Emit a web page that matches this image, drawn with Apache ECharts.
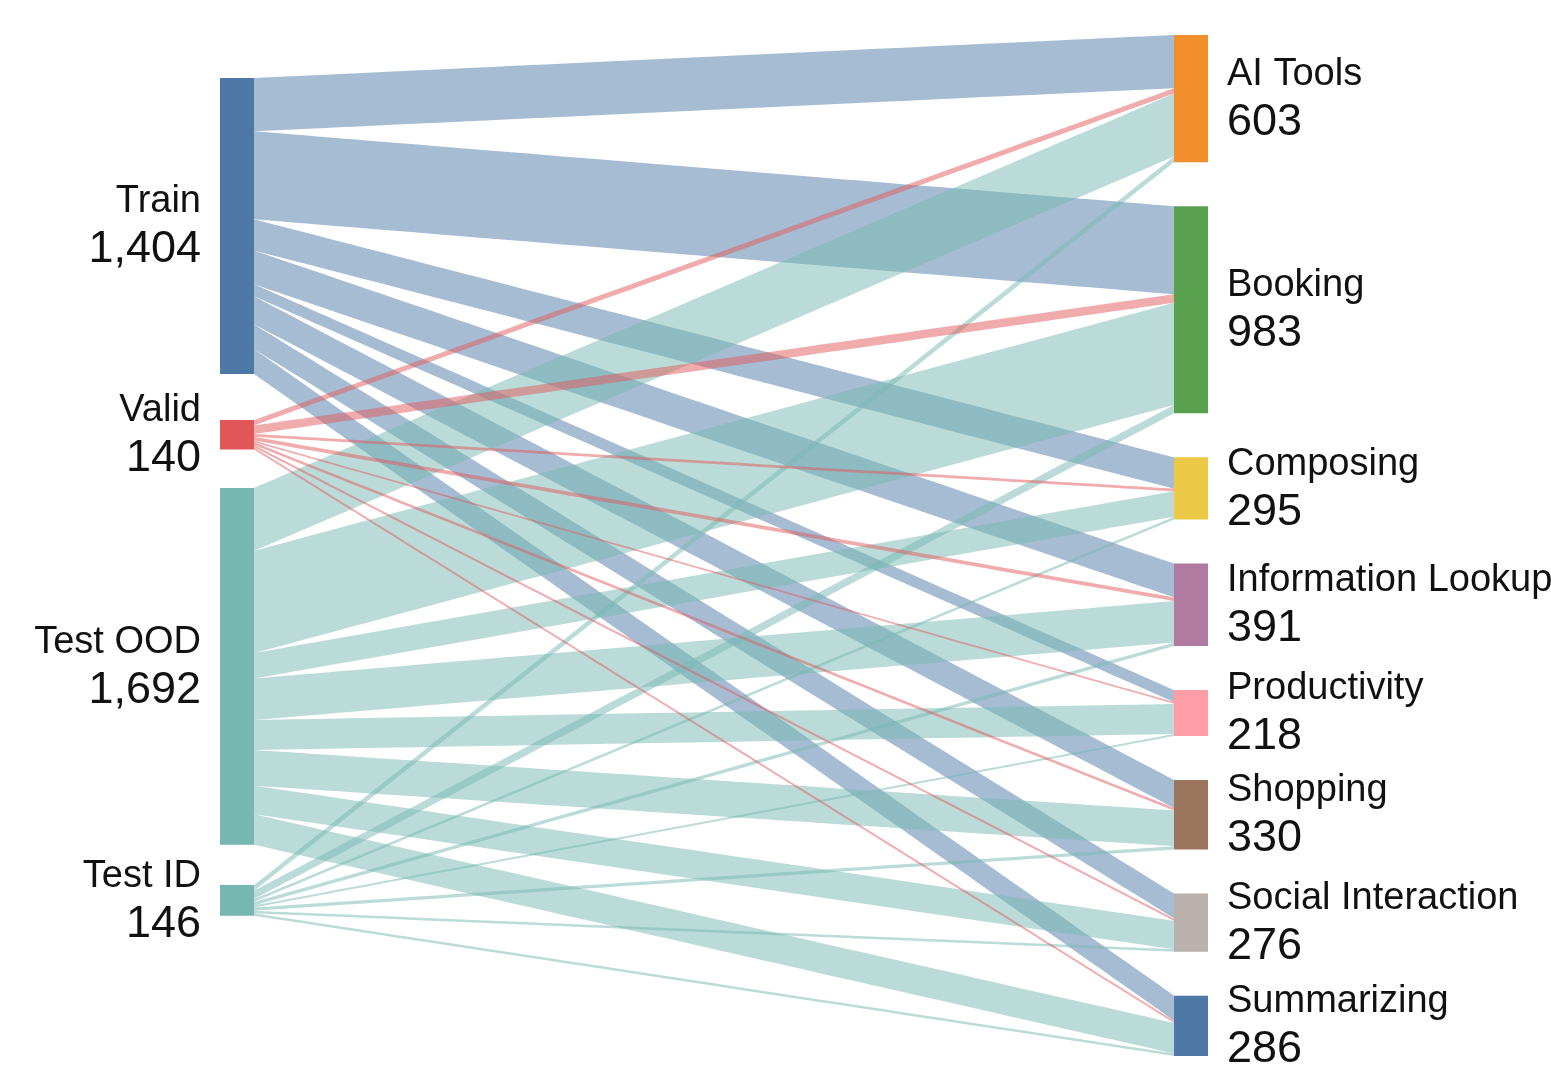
<!DOCTYPE html>
<html><head><meta charset="utf-8">
<script src="https://cdn.jsdelivr.net/npm/echarts@6/dist/echarts.min.js"></script>
<style>html,body{margin:0;padding:0;background:#fff}#c{width:1551px;height:1070px}</style>
</head><body><div id="c"></div>
<script>
// ---- data ----
const sources = ['Train', 'Valid', 'Test OOD', 'Test ID'];
const sourceTotals = [1404, 140, 1692, 146];
const categories = ['AI Tools', 'Booking', 'Composing', 'Information Lookup', 'Productivity', 'Shopping', 'Social Interaction', 'Summarizing'];
const categoryTotals = [603, 983, 295, 391, 218, 330, 276, 286];
const trainFlows   = [252, 418, 148, 160, 57, 133, 118, 118];
const validFlows   = [26, 40, 13, 18, 9, 12, 11, 11];
const testOodFlows = [298, 485, 121, 196, 143, 169, 135, 145];
const testIdFlows  = [27, 40, 13, 17, 9, 16, 12, 12];

// ---- styling ----
const sourceColors = ['#4e79a7', '#e15759', '#76b7b2', '#76b7b2'];
const categoryColors = ['#f28e2b', '#59a14f', '#edc948', '#b07aa1', '#ff9da7', '#9c755f', '#bab0ac', '#4e79a7'];
const seriesTop = 35, seriesBottom = 14, chartH = 1070;
const seriesH = chartH - seriesTop - seriesBottom;
const leftTopsPx = [78, 420, 488, 885];

const rich = {
  n: { fontSize: 38, lineHeight: 48, color: '#111', fontFamily: 'Liberation Sans, Arial, sans-serif' },
  v: { fontSize: 45, lineHeight: 48, color: '#111', fontFamily: 'Liberation Sans, Arial, sans-serif' }
};
function fmt(p) {
  return '{n|' + p.name + '}\n{v|' + Number(p.value).toLocaleString('en-US') + '}';
}

const nodes = [];
sources.forEach((s, i) => {
  nodes.push({
    name: s, value: sourceTotals[i],
    localY: (leftTopsPx[i] - seriesTop) / seriesH,
    itemStyle: { color: sourceColors[i] },
    label: { position: 'left', distance: 19, align: 'right', formatter: fmt,
      rich: { n: Object.assign({ align: 'right' }, rich.n), v: Object.assign({ align: 'right' }, rich.v) } }
  });
});
categories.forEach((c, i) => {
  nodes.push({
    name: c, value: categoryTotals[i],
    itemStyle: { color: categoryColors[i] },
    label: { position: 'right', distance: 19, align: 'left', formatter: fmt,
      rich: { n: Object.assign({ align: 'left' }, rich.n), v: Object.assign({ align: 'left' }, rich.v) } }
  });
});

const flowSets = [trainFlows, testOodFlows, testIdFlows, validFlows];
const flowSources = ['Train', 'Test OOD', 'Test ID', 'Valid'];
const links = [];
flowSets.forEach((arr, k) => {
  arr.forEach((v, i) => links.push({ source: flowSources[k], target: categories[i], value: v }));
});

const chart = echarts.init(document.getElementById('c'), null, { renderer: 'canvas' });
chart.setOption({
  backgroundColor: '#ffffff',
  animation: false,
  series: [{
    type: 'sankey',
    left: 220, right: 343, top: seriesTop, bottom: seriesBottom,
    nodeWidth: 34,
    nodeGap: 44,
    layoutIterations: 0,
    draggable: false,
    emphasis: { disabled: true },
    data: nodes,
    links: links,
    lineStyle: { color: 'source', opacity: 0.5, curveness: 0 },
    itemStyle: { borderWidth: 0 },
    label: { show: true }
  }]
});
</script>
</body></html>
